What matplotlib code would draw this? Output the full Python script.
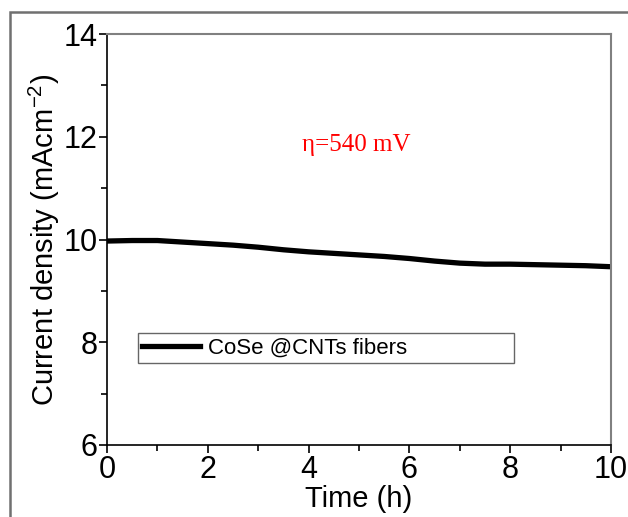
import matplotlib
matplotlib.use('Agg')
import matplotlib.pyplot as plt
from matplotlib.patches import Rectangle
from matplotlib.ticker import MultipleLocator

# Chronoamperometry data
time_h = [0, 0.5, 1.0, 1.5, 2.0, 2.5, 3.0, 3.5, 4.0, 4.5, 5.0, 5.5, 6.0, 6.5, 7.0, 7.5, 8.0, 8.5, 9.0, 9.5, 10.0]
current = [9.97, 9.98, 9.98, 9.95, 9.92, 9.89, 9.85, 9.80, 9.76, 9.73, 9.70, 9.67, 9.63, 9.58, 9.54, 9.52, 9.52, 9.51, 9.50, 9.49, 9.47]
series_label = 'CoSe @CNTs fibers'
note = 'η=540 mV'

plt.rcParams['font.family'] = ['Liberation Sans', 'DejaVu Sans']

fig = plt.figure(figsize=(6.28, 5.17), dpi=100)
# outer frame of the original figure
fig.patches.append(Rectangle((10 / 628, -0.1), 1.1, 1 - 12 / 517 + 0.1,
                             transform=fig.transFigure, fill=False,
                             edgecolor='#707070', linewidth=1.8))

ax = fig.add_axes([107 / 628, 72 / 517, 504 / 628, 411 / 517])
ax.plot(time_h, current, color='black', linewidth=3.8, label=series_label)

ax.set_xlim(0, 10)
ax.set_ylim(6, 14)
ax.xaxis.set_major_locator(MultipleLocator(2))
ax.xaxis.set_minor_locator(MultipleLocator(1))
ax.yaxis.set_major_locator(MultipleLocator(2))
ax.yaxis.set_minor_locator(MultipleLocator(1))
ax.tick_params(which='both', direction='out', labelsize=22, pad=1)
ax.tick_params(which='major', length=6, width=1.2)
ax.tick_params(which='minor', length=4, width=1.2)
ax.tick_params(top=False, right=False)
for side in ['top', 'right']:
    ax.spines[side].set_color('#808080')
    ax.spines[side].set_linewidth(1.5)
for side in ['left', 'bottom']:
    ax.spines[side].set_linewidth(1.2)

ax.set_xlabel('Time (h)', fontsize=21, labelpad=0)
ax.set_ylabel(r'Current density (mAcm$^{\mathregular{-2}}$)', fontsize=21, labelpad=1)

ax.text(4.95, 11.84, note, color='red', fontsize=18,
        family=['Liberation Serif', 'DejaVu Serif'], ha='center', va='center')

# legend box spans roughly x 138-514 px, y 333-363 px
leg = ax.legend(loc='lower left', mode='expand',
                bbox_to_anchor=(31 / 504, (445 - 363) / 411, 376 / 504, 30 / 411),
                fontsize=16, frameon=True, fancybox=False, handlelength=2.6,
                handletextpad=0.35, borderpad=0.2, borderaxespad=0)
leg.get_frame().set_edgecolor('#404040')
leg.get_frame().set_linewidth(1.0)

fig.savefig('out.png', dpi=100)
